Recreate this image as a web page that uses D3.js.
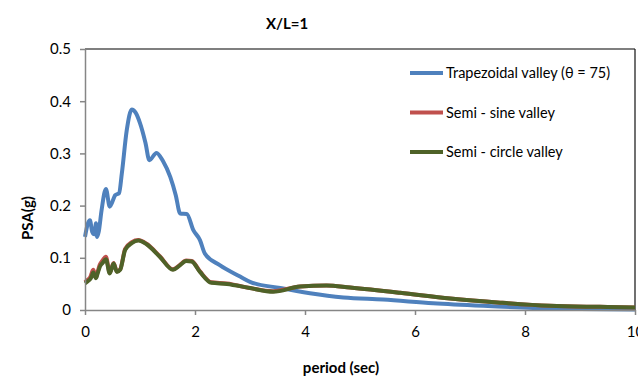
<!DOCTYPE html>
<html lang="en">
    <head>
        <meta charset="utf-8">
        <title>X/L=1</title>
        <script type="text/javascript" src="https://cdn.jsdelivr.net/npm/d3@7"></script>
        <style type="text/css">
        body { margin: 0; background: #fff; }
        .axis path,
        .axis line {
            fill: none;
            stroke: #868686;
            stroke-width: 1.5;
        }
        .axis text {
            font-family: Lato, "Open Sans", sans-serif;
            font-size: 15px;
            fill: #000;
        }
        .lbl {
            font-family: Lato, "Open Sans", sans-serif;
            font-weight: bold;
            font-size: 15px;
        }
        .legend text {
            font-family: Lato, "Open Sans", sans-serif;
            font-size: 14.5px;
        }
        </style>
    </head>
    <body>
        <script>
                var w = 638;
                var h = 379;

                // trapezoidal valley (theta = 75)
                var trapPeriod = [0.0, 0.05, 0.09, 0.13, 0.17, 0.2, 0.22, 0.25, 0.3, 0.38, 0.45, 0.55, 0.62, 0.67, 0.76, 0.85, 0.92, 1.0, 1.1, 1.17, 1.3, 1.42, 1.55, 1.65, 1.73, 1.85, 1.97, 2.09, 2.18, 2.45, 2.82, 3.0, 3.55, 4.09, 4.7, 5.42, 6.33, 7.24, 8.15, 9.0, 10.0];
                var trapPSA = [0.14, 0.165, 0.172, 0.15, 0.145, 0.166, 0.14, 0.15, 0.19, 0.232, 0.198, 0.22, 0.224, 0.262, 0.345, 0.384, 0.378, 0.358, 0.32, 0.287, 0.301, 0.285, 0.255, 0.22, 0.185, 0.184, 0.153, 0.134, 0.108, 0.086, 0.064, 0.054, 0.042, 0.032, 0.024, 0.02, 0.013, 0.008, 0.004, 0.002, 0.001];

                // semi-sine and semi-circle share the same periods
                var semiPeriod = [0.0, 0.05, 0.1, 0.12, 0.15, 0.2, 0.23, 0.27, 0.32, 0.38, 0.45, 0.52, 0.58, 0.64, 0.73, 0.85, 0.97, 1.12, 1.36, 1.6, 1.72, 1.84, 1.94, 2.09, 2.3, 2.58, 3.0, 3.42, 3.91, 4.39, 4.82, 5.73, 6.64, 7.55, 8.45, 9.36, 10.0];
                var sinePSA = [0.053, 0.058, 0.064, 0.07, 0.077, 0.063, 0.073, 0.087, 0.095, 0.102, 0.072, 0.09, 0.074, 0.078, 0.117, 0.13, 0.134, 0.127, 0.103, 0.078, 0.086, 0.095, 0.094, 0.074, 0.053, 0.051, 0.042, 0.036, 0.045, 0.047, 0.043, 0.033, 0.022, 0.014, 0.008, 0.006, 0.005];
                var circlePSA = [0.051, 0.055, 0.06, 0.064, 0.072, 0.061, 0.07, 0.083, 0.09, 0.097, 0.07, 0.089, 0.073, 0.077, 0.115, 0.128, 0.133, 0.126, 0.102, 0.077, 0.085, 0.094, 0.093, 0.073, 0.052, 0.05, 0.042, 0.035, 0.045, 0.047, 0.043, 0.033, 0.022, 0.014, 0.008, 0.006, 0.005];

                var xTicks = [0, 2, 4, 6, 8, 10];
                var yTicks = [0, 0.1, 0.2, 0.3, 0.4, 0.5];

                var seriesNames = ["Trapezoidal valley (θ = 75)", "Semi - sine valley", "Semi - circle valley"];
                var seriesColors = ["#4f81bd", "#c0504d", "#4f6228"];

                var series = [
                  { name: seriesNames[0], color: seriesColors[0], data: d3.zip(trapPeriod, trapPSA) },
                  { name: seriesNames[1], color: seriesColors[1], data: d3.zip(semiPeriod, sinePSA) },
                  { name: seriesNames[2], color: seriesColors[2], data: d3.zip(semiPeriod, circlePSA) }
                ];

                var xScale = d3.scaleLinear().domain([0, 10]).range([85, 635]);
                var yScale = d3.scaleLinear().domain([0, 0.5]).range([310, 49]);

                var svg = d3.select("body")
                  .append("svg")
                  .attr("width", w)
                  .attr("height", h);

                // plot border (top and right)
                svg.append("line")
                  .attr("x1", xScale(0)).attr("x2", xScale(10))
                  .attr("y1", yScale(0.5)).attr("y2", yScale(0.5))
                  .attr("stroke", "#555").attr("stroke-width", 1.5);
                svg.append("line")
                  .attr("x1", xScale(10)).attr("x2", xScale(10))
                  .attr("y1", yScale(0.5)).attr("y2", yScale(0))
                  .attr("stroke", "#111").attr("stroke-width", 1.2);

                // lines
                var line = d3.line()
                  .x(function (d) { return xScale(d[0]); })
                  .y(function (d) { return yScale(d[1]); })
                  .curve(d3.curveMonotoneX);

                svg.selectAll(".series")
                  .data(series)
                  .enter()
                  .append("path")
                  .attr("class", "series")
                  .attr("fill", "none")
                  .attr("stroke", function (d) { return d.color; })
                  .attr("stroke-width", 4)
                  .attr("stroke-linejoin", "round")
                  .attr("d", function (d) { return line(d.data); });

                // axes
                svg.append("g")
                  .attr("class", "axis")
                  .attr("transform", "translate(0," + yScale(0) + ")")
                  .call(d3.axisBottom(xScale).tickValues(xTicks).tickSize(5).tickSizeOuter(0).tickPadding(11));

                svg.append("g")
                  .attr("class", "axis")
                  .attr("transform", "translate(" + xScale(0) + ",0)")
                  .call(d3.axisLeft(yScale).tickValues(yTicks).tickSize(5).tickSizeOuter(0).tickPadding(9)
                    .tickFormat(function (d) { return d === 0 ? "0" : d3.format(".1f")(d); }));

                // legend
                var legend = svg.append("g").attr("class", "legend");
                var items = legend.selectAll("g")
                  .data(series)
                  .enter()
                  .append("g")
                  .attr("transform", function (d, i) { return "translate(410," + (73 + i * 39.5) + ")"; });
                items.append("line")
                  .attr("x1", 0).attr("x2", 33)
                  .attr("stroke", function (d) { return d.color; })
                  .attr("stroke-width", 4);
                items.append("text")
                  .attr("x", 36)
                  .attr("dy", "0.35em")
                  .text(function (d) { return d.name; });

                // titles
                svg.append("text")
                  .attr("class", "lbl")
                  .attr("text-anchor", "middle")
                  .attr("x", 287).attr("y", 29)
                  .text("X/L=1");

                svg.append("text")
                  .attr("class", "lbl")
                  .attr("text-anchor", "middle")
                  .attr("x", 341).attr("y", 373)
                  .text("period (sec)");

                svg.append("text")
                  .attr("class", "lbl")
                  .attr("text-anchor", "middle")
                  .attr("transform", "translate(33,218) rotate(-90)")
                  .text("PSA(g)");
            </script>
    </body>
</html>
